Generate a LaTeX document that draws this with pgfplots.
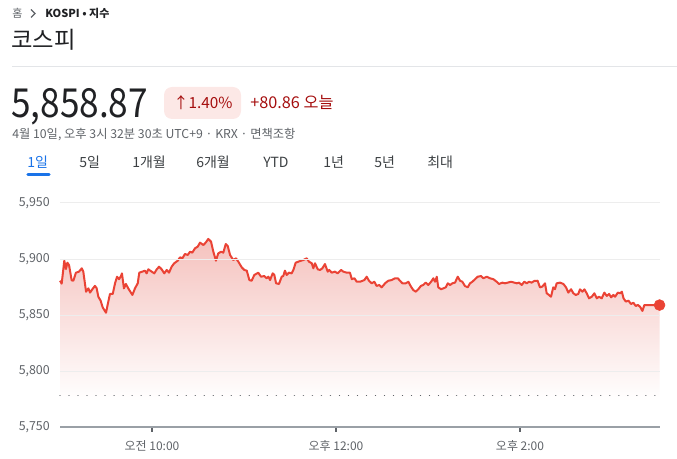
\documentclass[border=0pt]{standalone}
\usepackage{fontspec}
\usepackage{pgfplots}
\pgfplotsset{compat=1.18}
\usepackage{pgfplotstable}
\setmainfont{Noto Sans CJK KR}
\definecolor{kdark}{HTML}{202124}
\definecolor{kgray}{HTML}{5F6368}
\definecolor{ktab}{HTML}{3C4043}
\definecolor{kblue}{HTML}{1A73E8}
\definecolor{kdred}{HTML}{A50E0E}
\definecolor{kpill}{HTML}{FCE8E6}
\definecolor{krule}{HTML}{E3E5E8}
\definecolor{kgrid}{HTML}{EDEDED}
\definecolor{kaxis}{HTML}{9AA0A6}
\definecolor{kred}{HTML}{EA4335}
\definecolor{fillpink}{HTML}{F5C2BE}
\pgfdeclareverticalshading{kfade}{100bp}{color(0bp)=(white); color(25bp)=(white); color(32bp)=(white); color(75bp)=(fillpink); color(100bp)=(fillpink)}

\pgfplotstableread{
x y
0.0 5880.6
1.1 5878.0
2.8 5898.5
3.9 5891.0
4.8 5896.7
5.9 5894.6
7.6 5881.0
8.7 5880.6
10.4 5887.8
12.4 5888.7
14.2 5891.7
15.2 5888.7
17.0 5870.8
18.5 5873.8
19.6 5870.0
21.1 5873.0
22.8 5876.0
23.9 5874.0
25.0 5866.3
26.5 5862.8
27.8 5856.9
30.0 5852.0
31.5 5861.9
32.6 5868.8
34.4 5868.8
35.9 5878.3
37.2 5884.2
38.5 5882.0
39.8 5884.8
40.4 5887.2
41.7 5873.8
43.0 5877.7
44.5 5873.8
47.2 5867.9
48.9 5873.8
50.7 5878.3
51.7 5887.8
53.7 5888.7
55.4 5889.6
56.5 5887.2
57.6 5890.8
59.8 5888.7
61.5 5887.2
63.1 5890.8
64.6 5893.1
66.3 5890.8
68.0 5887.2
69.6 5890.2
71.1 5887.8
72.8 5893.1
74.5 5896.2
76.8 5898.5
78.3 5901.5
79.8 5900.6
81.5 5904.5
83.3 5903.6
84.8 5906.5
86.3 5905.7
88.0 5909.5
89.8 5911.0
91.3 5914.6
93.5 5912.5
95.0 5914.6
96.7 5917.9
98.5 5915.5
100.0 5906.5
101.7 5898.5
103.2 5905.0
105.0 5906.5
106.5 5905.7
108.1 5913.4
109.4 5911.6
110.9 5903.6
113.0 5899.1
114.8 5900.6
116.3 5897.6
118.5 5892.6
120.2 5890.2
121.8 5889.6
123.5 5881.2
125.0 5880.6
126.7 5885.7
129.3 5887.8
131.1 5884.2
133.2 5884.8
134.8 5882.8
135.9 5884.2
137.0 5881.2
138.7 5887.2
139.8 5885.7
140.9 5878.3
142.8 5877.7
144.6 5884.2
145.6 5884.8
146.7 5889.6
147.8 5885.7
149.3 5887.8
151.1 5887.2
152.2 5890.2
153.7 5896.7
155.4 5897.6
157.2 5898.5
158.7 5899.1
160.9 5900.6
162.4 5897.6
164.2 5896.2
165.2 5891.7
166.3 5896.2
168.1 5890.8
169.6 5890.2
171.1 5891.7
172.8 5895.5
174.6 5888.7
175.6 5890.2
177.2 5887.8
179.3 5888.7
181.1 5887.2
183.3 5890.2
184.8 5888.7
187.0 5887.8
189.1 5887.8
190.3 5882.0
192.0 5882.8
193.5 5879.7
195.7 5879.7
198.5 5881.2
200.0 5884.2
201.5 5880.6
203.3 5878.3
205.0 5879.7
206.5 5875.9
208.1 5876.8
209.8 5874.7
212.0 5878.3
214.1 5880.6
216.3 5881.2
218.5 5882.8
220.3 5882.8
221.7 5880.6
223.3 5878.3
225.5 5878.3
227.2 5879.7
228.9 5875.3
230.4 5872.3
232.0 5870.8
233.7 5873.0
235.4 5876.0
236.9 5876.8
238.5 5878.9
240.2 5876.8
242.0 5879.7
243.5 5882.8
244.6 5879.7
245.7 5884.2
246.7 5874.7
248.5 5873.0
250.0 5873.8
251.6 5874.7
252.9 5878.3
254.4 5876.8
255.9 5878.3
257.6 5878.9
259.4 5884.2
260.9 5880.6
262.4 5879.7
264.1 5875.9
265.9 5874.7
267.4 5878.3
268.9 5879.7
270.7 5882.0
272.4 5884.2
274.6 5884.8
276.1 5882.8
278.3 5884.2
280.4 5882.8
282.6 5882.0
284.8 5879.7
286.3 5877.7
288.5 5878.9
290.2 5878.3
292.0 5878.9
294.1 5879.7
296.3 5878.9
297.9 5878.3
299.4 5878.9
301.1 5876.8
302.8 5879.7
304.4 5878.3
305.9 5879.7
307.6 5878.9
309.3 5880.4
311.5 5880.6
313.0 5874.7
314.5 5875.3
316.3 5878.3
317.4 5869.4
318.9 5867.9
320.2 5866.3
321.7 5874.7
322.8 5873.0
323.9 5878.3
326.1 5878.9
328.3 5877.7
330.0 5874.7
331.5 5870.0
333.3 5873.0
334.8 5869.4
336.4 5867.9
338.0 5868.8
339.1 5872.9
340.7 5870.8
342.0 5872.9
343.5 5869.4
345.0 5864.9
346.8 5866.3
348.5 5869.4
350.1 5864.9
351.5 5866.3
353.3 5864.9
355.0 5870.0
356.6 5867.0
358.1 5868.8
359.4 5865.8
360.9 5867.9
362.0 5866.3
363.8 5870.0
365.3 5869.4
366.4 5870.8
367.5 5864.9
369.0 5862.0
370.7 5862.8
372.4 5859.8
373.9 5861.0
375.5 5858.0
376.8 5859.0
378.3 5857.4
379.8 5853.6
381.1 5858.9
391.0 5858.87
}\kospi

\begin{document}
\begin{tikzpicture}
\begin{scope}[x=0.75pt,y=-0.75pt]
\path[use as bounding box] (0,0) rectangle (677,459);
% breadcrumb
\node[anchor=base west,inner sep=0,text=kgray,font=\fontsize{8.25pt}{10pt}\selectfont] at (12,17.5) {홈};
\draw[kgray,line width=0.9pt] (31,9.5) -- (35,13.5) -- (31,17.5);
\node[anchor=base west,inner sep=0,text=kdark,font=\fontsize{8.25pt}{10pt}\selectfont\bfseries] at (45,17.5) {KOSPI • 지수};
% title
\node[anchor=base west,inner sep=0,text=kdark,font=\fontsize{17.5pt}{21pt}\selectfont] at (11,48.5) {코스피};
\draw[krule,line width=0.75pt] (12,66.5) -- (677,66.5);
% price
\node[anchor=base west,inner sep=0,text=kdark,font=\fontsize{30pt}{36pt}\selectfont] at (11,118) {\scalebox{0.88}[1]{5,858.87}};
\fill[kpill,rounded corners=6pt] (164,87) rectangle (241,119);
\node[anchor=base west,inner sep=0,text=kdred,font=\fontsize{11.5pt}{14pt}\selectfont] at (173,108.5) {↑1.40\%};
\node[anchor=base west,inner sep=0,text=kdred,font=\fontsize{12.2pt}{14pt}\selectfont] at (250,108.5) {+80.86 오늘};
\node[anchor=base west,inner sep=0,text=kgray,font=\fontsize{9.2pt}{11pt}\selectfont] at (12,139) {4월 10일, 오후 3시 32분 30초 UTC+9 · KRX · 면책조항};
% tabs
\begin{scope}[every node/.style={anchor=base west,inner sep=0,text=ktab,font=\fontsize{10.5pt}{13pt}\selectfont}]
\node[text=kblue] at (27,168) {1일};
\node at (79,168) {5일};
\node at (132,168) {1개월};
\node at (196,168) {6개월};
\node at (263,168) {YTD};
\node at (323,168) {1년};
\node at (374,168) {5년};
\node at (427,168) {최대};
\end{scope}
\draw[kblue,line width=2.4pt,line cap=round] (28,174.5) -- (49,174.5);
% previous close label
\node[anchor=base west,inner sep=0,text=ktab,font=\fontsize{9pt}{11pt}\selectfont] at (600,374) {전일 종가:};
\node[anchor=base west,inner sep=0,text=ktab,font=\fontsize{9pt}{11pt}\selectfont] at (600,388.5) {5,778.01};
\end{scope}

\begin{axis}[
  at={(45pt,-320.25pt)}, anchor=south west,
  scale only axis, width=450pt, height=168pt,
  xmin=0, xmax=391.3, ymin=5750, ymax=5950,
  clip=false, axis on top,
  axis x line*=bottom, axis y line*=left,
  x axis line style={kaxis,line width=0.9pt},
  y axis line style={draw=none},
  xtick={60,180,300},
  xticklabels={{오전 10:00},{오후 12:00},{오후 2:00}},
  xtick align=outside, major tick length=3.4pt,
  xtick style={kgray,line width=1.3pt},
  xticklabel style={anchor=base,inner sep=0pt,yshift=-14.4pt,text=kgray,font=\fontsize{9pt}{11pt}\selectfont},
  ytick={5750,5800,5850,5900,5950},
  yticklabels={{5,750},{5,800},{5,850},{5,900},{5,950}},
  ytick style={draw=none},
  yticklabel style={anchor=east,inner sep=0pt,xshift=-7.5pt,text=kgray,font=\fontsize{9.3pt}{11pt}\selectfont},
  ymajorgrids, grid style={kgrid,line width=0.75pt},
]
\addplot[draw=none, shading=kfade] table {\kospi} -- (axis cs:391,5750) -- (axis cs:0,5750) -- cycle;
\addplot[kgray, line width=1pt, line cap=round, dash pattern=on 0.01pt off 6.75pt] coordinates {(0,5778.01) (388,5778.01)};
\addplot[kred, line width=1.5pt, line join=round] table {\kospi};
\addplot[only marks, mark=*, mark size=4.1pt, kred, mark options={draw=kred,fill=kred}] coordinates {(391,5858.87)};
\end{axis}
\end{tikzpicture}
\end{document}
